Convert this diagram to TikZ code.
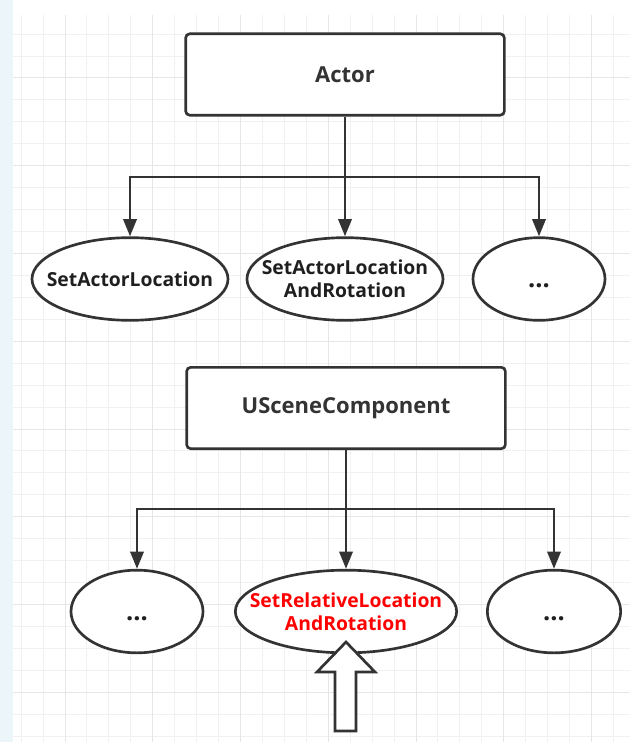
\documentclass[tikz,border=0pt]{standalone}
\usepackage{fontspec}
\setmainfont{Open Sans}
\usepackage{tikz}
\usetikzlibrary{arrows.meta,shapes.geometric}
\definecolor{strokegray}{RGB}{51,51,51}
\definecolor{gridminor}{RGB}{241,241,241}
\definecolor{gridmajor}{RGB}{230,230,230}
\definecolor{pageblue}{RGB}{236,245,250}

\begin{document}
\begin{tikzpicture}[x=0.75pt,y=0.75pt,yscale=-1,xscale=1,
  classbox/.style={draw=strokegray,line width=2pt,rounded corners=3pt,fill=white,minimum width=239pt,minimum height=61pt,inner sep=0pt,font=\fontsize{16.5}{19}\selectfont\bfseries,text=strokegray},
  method/.style={draw=strokegray,line width=2pt,ellipse,fill=white,minimum height=62pt,inner xsep=-18pt,inner ysep=-10pt,align=center,font=\fontsize{14.5}{17}\selectfont\bfseries,text=black!88},
  more/.style={method,font=\fontsize{19}{20}\selectfont\bfseries,text height=13pt,text depth=0pt},
  conn/.style={draw=strokegray,line width=2pt,-{Triangle[length=13pt,width=10pt]}},
  gridline/.style={draw=gridminor,line width=0.75pt},
  gridbold/.style={draw=gridmajor,line width=0.75pt}]
\useasboundingbox (0,0) rectangle (630,742);

%Background: page and grid
\fill[white] (0,0) rectangle (630,742);
\fill[pageblue] (0,0) rectangle (13,742);
\foreach \k in {-2,...,25} \draw[gridline] ({65+21.94*\k},15) -- ({65+21.94*\k},742);
\foreach \k in {-2,...,30} \draw[gridline] (13,{78+21.94*\k}) -- (630,{78+21.94*\k});
\foreach \m in {0,...,6} \draw[gridbold] ({65+87.75*\m},15) -- ({65+87.75*\m},742);
\foreach \m in {0,...,7} \draw[gridbold] (13,{78+87.75*\m}) -- (630,{78+87.75*\m});

%Upper tree
\node[classbox] (actor) at (345,74.5) {Actor};
\node[method,minimum width=147pt] (setloc) at (130,279) {SetActorLocation};
\node[method,minimum width=147pt] (setlocrot) at (345,279) {SetActorLocation\\AndRotation};
\node[more,minimum width=99pt] (actormore) at (539,279) {...};
\coordinate (actorbus) at (345,177);
\draw[conn] (actor.south) -- (actorbus) -| (setloc.north);
\draw[conn] (actor.south) -- (setlocrot.north);
\draw[conn] (actorbus) -| (actormore.north);

%Lower tree
\node[classbox] (scene) at (346,408) {USceneComponent};
\node[more,minimum width=99pt] (scenemoreleft) at (137,611.5) {...};
\node[method,minimum width=166pt,text=red] (setrelrot) at (346,611.5) {SetRelativeLocation\\AndRotation};
\node[more,minimum width=100pt] (scenemoreright) at (554,611.5) {...};
\coordinate (scenebus) at (346,509);
\draw[conn] (scene.south) -- (scenebus) -| (scenemoreleft.north);
\draw[conn] (scene.south) -- (setrelrot.north);
\draw[conn] (scenebus) -| (scenemoreright.north);

%Shape: hollow up arrow
\draw[draw=strokegray,line width=2pt,fill=white,line join=miter] (346,642) -- (375,672) -- (356,672) -- (356,731) -- (335,731) -- (335,672) -- (317,672) -- cycle;
\end{tikzpicture}
\end{document}
